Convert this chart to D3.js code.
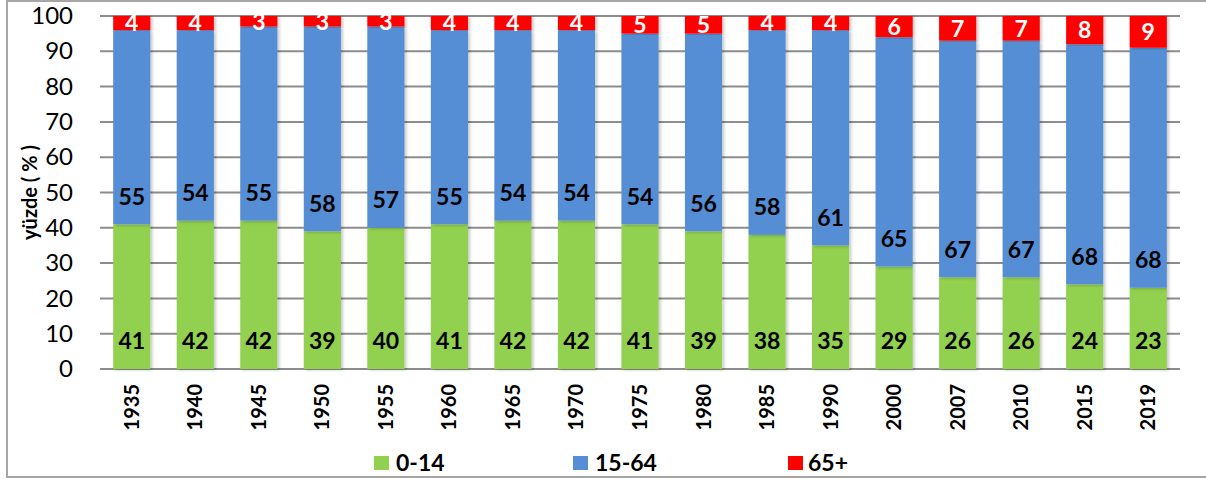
<!DOCTYPE html>
<html><head><meta charset="utf-8">
<script src="https://cdn.jsdelivr.net/npm/d3@7/dist/d3.min.js"></script>
<style>body{margin:0;background:#fff;} svg{display:block;}</style>
</head><body>
<svg id="c" width="1206" height="479"></svg>
<script>
const years = ["1935","1940","1945","1950","1955","1960","1965","1970","1975","1980","1985","1990","2000","2007","2010","2015","2019"];
const young = [41,42,42,39,40,41,42,42,41,39,38,35,29,26,26,24,23];
const working = [55,54,55,58,57,55,54,54,54,56,58,61,65,67,67,68,68];
const old = [4,4,3,3,3,4,4,4,5,5,4,4,6,7,7,8,9];
const seriesNames = ["0-14","15-64","65+"];
const colors = ["#92D050","#558ED5","#FF0000"];
const yTicks = [0,10,20,30,40,50,60,70,80,90,100];

const svg = d3.select("#c");
const font = "Lato, 'Open Sans', sans-serif";
const M = {left:100, right:1180, top:16, bottom:369};

svg.append("rect").attr("x",7).attr("y",1).attr("width",1210).attr("height",476)
  .attr("fill","#fff").attr("stroke","#a6a6a6").attr("stroke-width",2);

const defs = svg.append("defs");
const f = defs.append("filter").attr("id","sh").attr("x","-20%").attr("y","-5%").attr("width","140%").attr("height","110%");
f.append("feDropShadow").attr("dx",2).attr("dy",1).attr("stdDeviation",1.5).attr("flood-color","#000").attr("flood-opacity",0.22);

const x = d3.scaleBand().domain(years).range([M.left, M.right]).paddingInner(0.415).paddingOuter(0.2075);
const y = d3.scaleLinear().domain([0,100]).range([M.bottom, M.top]);

// gridlines
svg.append("g").selectAll("line").data(yTicks).join("line")
  .attr("x1",M.left).attr("x2",M.right).attr("y1",d=>y(d)).attr("y2",d=>y(d))
  .attr("stroke","#8c8c8c").attr("stroke-width",2);

// y axis labels
const yAxis = svg.append("g").attr("transform",`translate(${M.left},0)`)
  .call(d3.axisLeft(y).tickValues(yTicks).tickSize(0).tickPadding(27));
yAxis.select(".domain").remove();
yAxis.selectAll("text").attr("font-family",font).attr("font-size",24).attr("fill","#000");

svg.append("text").attr("transform",`translate(30,${y(50)}) rotate(-90)`)
  .attr("text-anchor","middle").attr("dy","0.35em").attr("font-family",font).attr("font-weight","bold")
  .attr("font-size",20).text("yüzde ( % )");

const data = years.map((yr,i)=>({year:yr, "0-14":young[i], "15-64":working[i], "65+":old[i]}));
const stack = d3.stack().keys(seriesNames)(data);

const g = svg.append("g");
stack.forEach((s,si)=>{
  g.append("g").selectAll("rect").data(s).join("rect")
    .attr("x",d=>x(d.data.year)).attr("width",x.bandwidth())
    .attr("y",d=>y(d[1])).attr("height",d=>y(d[0])-y(d[1]))
    .attr("fill",colors[si]).attr("filter","url(#sh)");
});
// labels
stack.forEach((s,si)=>{
  g.append("g").selectAll("text").data(s).join("text")
    .attr("x",d=>x(d.data.year)+x.bandwidth()/2)
    .attr("y",d=> si<2 ? y(d[0])-28 : (y(d[0])+y(d[1]))/2)
    .attr("dy","0.36em").attr("text-anchor","middle")
    .attr("font-family",font).attr("font-weight","bold").attr("font-size",23)
    .attr("fill", si===2 ? "#fff" : "#000")
    .text(d=>d.data[seriesNames[si]]);
});

// x axis labels
svg.append("g").selectAll("text").data(years).join("text")
  .attr("transform",d=>`translate(${x(d)+x.bandwidth()/2+7},${M.bottom+15}) rotate(-90)`)
  .attr("text-anchor","end").attr("font-family",font).attr("font-weight","bold")
  .attr("font-size",20).text(d=>d);

// legend
const legX = [374, 573, 788];
const leg = svg.append("g");
seriesNames.forEach((n,i)=>{
  leg.append("rect").attr("x",legX[i]).attr("y",456).attr("width",15).attr("height",14).attr("fill",colors[i]);
  leg.append("text").attr("x",legX[i]+ (i===2?20:22)).attr("y",463).attr("dy","0.36em")
    .attr("font-family",font).attr("font-weight","bold").attr("font-size",23).text(n);
});
</script>
</body></html>
